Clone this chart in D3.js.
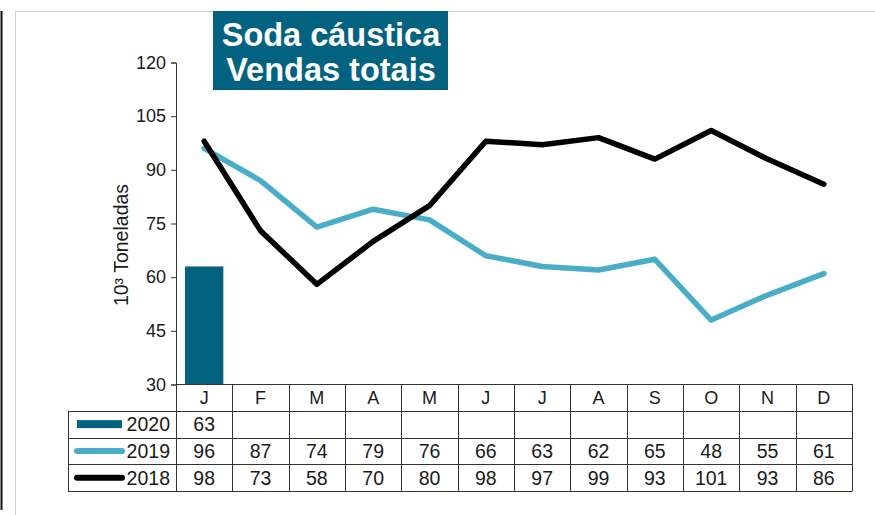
<!DOCTYPE html>
<meta charset="utf-8">
<head>
  <title>Soda cáustica - Vendas totais</title>
  <script src="https://d3js.org/d3.v7.min.js"></script>
  <style>
    body { margin: 0; background: #fff; }
    svg text { font-family: "Liberation Sans", Arial, sans-serif; fill: #1a1a1a; }
    .grid line { stroke: #333; stroke-width: 1; }
  </style>
</head>
<body>
  <svg id="chart" width="875" height="515"></svg>
  <script>
    const months = ["J", "F", "M", "A", "M", "J", "J", "A", "S", "O", "N", "D"];
    const sales2020 = [63];
    const sales2019 = [96, 87, 74, 79, 76, 66, 63, 62, 65, 48, 55, 61];
    const sales2018 = [98, 73, 58, 70, 80, 98, 97, 99, 93, 101, 93, 86];
    const yTicks = [30, 45, 60, 75, 90, 105, 120];

    const width = 875, height = 515;
    const svg = d3.select("#chart");

    // frame bits from the slide
    svg.append("line").attr("x1", 1.5).attr("x2", 1.5).attr("y1", 11).attr("y2", 510)
      .attr("stroke", "#111").attr("stroke-width", 2);
    svg.append("line").attr("x1", 15).attr("x2", width).attr("y1", 11.5).attr("y2", 11.5)
      .attr("stroke", "#d0d0d0");
    svg.append("line").attr("x1", 15.5).attr("x2", 15.5).attr("y1", 11).attr("y2", height)
      .attr("stroke", "#d0d0d0");

    const idx = months.map((m, i) => i);
    const x = d3.scaleBand().domain(idx).range([176, 852]);
    const y = d3.scaleLinear().domain([30, 120]).range([384.5, 62.5]);
    const cx = i => x(i) + x.bandwidth() / 2;

    // y axis
    const yAxis = svg.append("g")
      .attr("transform", "translate(176,0)")
      .call(d3.axisLeft(y).tickValues(yTicks).tickSize(5).tickPadding(5));
    yAxis.select(".domain").attr("stroke", "#333");
    yAxis.selectAll(".tick line").attr("stroke", "#333");
    yAxis.selectAll(".tick text")
      .style("font-size", "18px")
      .style("font-family", "Liberation Sans, Arial, sans-serif")
      .attr("fill", "#1a1a1a");

    svg.append("text")
      .attr("transform", "translate(128,245) rotate(-90)")
      .attr("text-anchor", "middle")
      .style("font-size", "19.5px")
      .text("10³ Toneladas");

    // 2020 bar
    svg.append("g").selectAll("rect")
      .data(sales2020)
      .enter().append("rect")
        .attr("x", (d, i) => x(i) + 9)
        .attr("width", x.bandwidth() - 18)
        .attr("y", d => y(d))
        .attr("height", d => y(30) - y(d))
        .attr("fill", "#03627f");

    const line = d3.line().x((d, i) => cx(i)).y(d => y(d));

    svg.append("path").datum(sales2019)
      .attr("d", line).attr("fill", "none")
      .attr("stroke", "#4aadc8").attr("stroke-width", 5.5)
      .attr("stroke-linejoin", "round").attr("stroke-linecap", "round");

    svg.append("path").datum(sales2018)
      .attr("d", line).attr("fill", "none")
      .attr("stroke", "#000").attr("stroke-width", 5.5)
      .attr("stroke-linejoin", "round").attr("stroke-linecap", "round");

    // data table
    const rows = ["hdr", "2020", "2019", "2018"];
    const ry = d3.scaleBand().domain(rows).range([384, 491]);
    const tableLeft = 68;

    const grid = svg.append("g").attr("class", "grid");
    rows.forEach((r, k) => {
      grid.append("line")
        .attr("x1", k === 0 ? 176 : tableLeft).attr("x2", 852)
        .attr("y1", Math.round(ry(r)) + 0.5).attr("y2", Math.round(ry(r)) + 0.5);
    });
    grid.append("line").attr("x1", tableLeft).attr("x2", 852)
      .attr("y1", 491.5).attr("y2", 491.5);
    grid.append("line").attr("x1", tableLeft + 0.5).attr("x2", tableLeft + 0.5)
      .attr("y1", ry("2020")).attr("y2", 491.5);
    idx.concat([12]).forEach(i => {
      const xx = Math.round(i === 12 ? 852 : x(i)) + 0.5;
      grid.append("line").attr("x1", xx).attr("x2", xx)
        .attr("y1", 384).attr("y2", 491.5);
    });

    const rowMid = r => ry(r) + ry.bandwidth() / 2;

    svg.append("g").selectAll("text")
      .data(months)
      .enter().append("text")
        .attr("x", (d, i) => cx(i))
        .attr("y", rowMid("hdr"))
        .attr("dy", "0.36em")
        .attr("text-anchor", "middle")
        .style("font-size", "18px")
        .text(d => d);

    const series = [
      { key: "2020", values: sales2020 },
      { key: "2019", values: sales2019 },
      { key: "2018", values: sales2018 }
    ];

    series.forEach(s => {
      svg.append("g").selectAll("text")
        .data(s.values)
        .enter().append("text")
          .attr("x", (d, i) => cx(i))
          .attr("y", rowMid(s.key))
          .attr("dy", "0.36em")
          .attr("text-anchor", "middle")
          .style("font-size", "19.5px")
          .text(d => d);

      svg.append("text")
        .attr("x", 170)
        .attr("y", rowMid(s.key))
        .attr("dy", "0.36em")
        .attr("text-anchor", "end")
        .style("font-size", "19.5px")
        .text(s.key);
    });

    // legend keys inside the table
    svg.append("rect")
      .attr("x", 77).attr("width", 45)
      .attr("y", rowMid("2020") - 4).attr("height", 8)
      .attr("fill", "#03627f");
    svg.append("line")
      .attr("x1", 77).attr("x2", 122)
      .attr("y1", rowMid("2019")).attr("y2", rowMid("2019"))
      .attr("stroke", "#4aadc8").attr("stroke-width", 6).attr("stroke-linecap", "round");
    svg.append("line")
      .attr("x1", 77).attr("x2", 122)
      .attr("y1", rowMid("2018")).attr("y2", rowMid("2018"))
      .attr("stroke", "#000").attr("stroke-width", 6).attr("stroke-linecap", "round");

    // title box
    svg.append("rect")
      .attr("x", 213).attr("y", 11).attr("width", 235).attr("height", 79)
      .attr("fill", "#03627f");
    const title = svg.append("text")
      .attr("text-anchor", "middle")
      .style("font-size", "32.5px")
      .style("font-weight", "bold");
    title.append("tspan").attr("x", 331).attr("y", 46).style("fill", "#fff").text("Soda cáustica");
    title.append("tspan").attr("x", 331).attr("y", 81).style("fill", "#fff").text("Vendas totais");
  </script>
</body>
